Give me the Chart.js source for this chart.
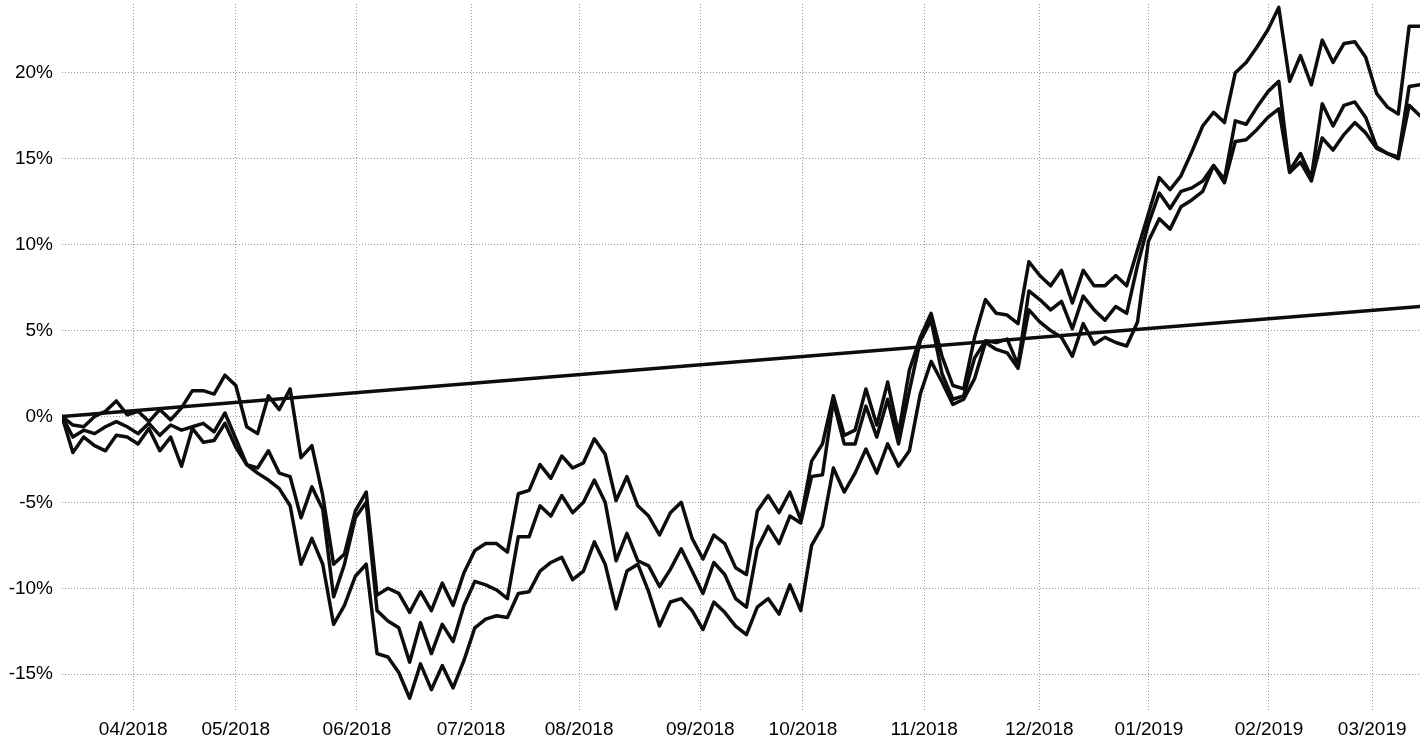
<!DOCTYPE html>
<html>
<head>
<meta charset="utf-8">
<title>Cumulative return</title>
<script src="https://cdn.jsdelivr.net/npm/chart.js@4.4.0/dist/chart.umd.min.js"></script>
<style>
  html, body { margin: 0; padding: 0; background: #fff; }
  #chart { display: block; }
</style>
</head>
<body>
<canvas id="chart" width="1426" height="741"></canvas>
<script>
// x = trading-day index (every 2nd session, mid-March 2018 -> mid-March 2019)
const dayIndex = [0,2,4,6,8,10,12,14,16,18,20,22,24,26,28,30,32,34,36,38,40,42,44,46,48,50,52,54,56,58,
  60,62,64,66,68,70,72,74,76,78,80,82,84,86,88,90,92,94,96,98,100,102,104,106,108,110,112,114,116,118,
  120,122,124,126,128,130,132,134,136,138,140,142,144,146,148,150,152,154,156,158,160,162,164,166,168,170,
  172,174,176,178,180,182,184,186,188,190,192,194,196,198,200,202,204,206,208,210,212,214,216,218,220,222,
  224,226,228,230,232,234,236,238,240,242,244,246,248,250];

// cumulative return in %
const seriesHigh = [0,-0.5,-0.6,0.0,0.3,0.9,0.1,0.3,-0.3,0.4,
  -0.2,0.5,1.5,1.5,1.3,2.4,1.8,-0.6,-1.0,1.2,
  0.4,1.6,-2.4,-1.7,-4.6,-8.6,-8.0,-5.5,-4.4,-10.4,
  -10.0,-10.3,-11.4,-10.2,-11.3,-9.7,-11.0,-9.1,-7.8,-7.4,
  -7.4,-7.9,-4.5,-4.3,-2.8,-3.6,-2.3,-3.0,-2.7,-1.3,
  -2.2,-4.9,-3.5,-5.2,-5.8,-6.9,-5.6,-5.0,-7.1,-8.3,
  -6.9,-7.4,-8.8,-9.2,-5.5,-4.6,-5.6,-4.4,-6.0,-2.6,
  -1.6,1.2,-1.1,-0.8,1.6,-0.5,2.0,-1.0,2.7,4.6,
  6.0,3.5,1.8,1.6,4.6,6.8,6.0,5.9,5.4,9.0,
  8.2,7.6,8.5,6.6,8.5,7.6,7.6,8.2,7.6,9.7,
  11.8,13.9,13.2,14.0,15.4,16.9,17.7,17.1,20.0,20.6,
  21.5,22.5,23.8,19.5,21.0,19.3,21.9,20.6,21.7,21.8,
  20.9,18.8,18.0,17.6,22.7,22.7];

const seriesMid = [0,-1.2,-0.8,-1.0,-0.6,-0.3,-0.6,-1.0,-0.4,-1.1,
  -0.5,-0.8,-0.6,-0.4,-0.9,0.2,-1.3,-2.8,-3.0,-2.0,
  -3.3,-3.5,-5.9,-4.1,-5.4,-10.5,-8.6,-5.9,-5.0,-11.3,
  -11.9,-12.3,-14.3,-12.0,-13.8,-12.1,-13.1,-11.0,-9.6,-9.8,
  -10.1,-10.6,-7.0,-7.0,-5.2,-5.8,-4.6,-5.6,-5.0,-3.7,
  -5.0,-8.4,-6.8,-8.4,-8.7,-9.9,-8.9,-7.7,-9.0,-10.3,
  -8.5,-9.2,-10.6,-11.1,-7.7,-6.4,-7.4,-5.8,-6.2,-3.5,
  -3.4,0.9,-1.6,-1.6,0.6,-1.2,1.0,-1.6,1.5,4.4,
  5.6,2.5,1.0,1.2,3.4,4.4,4.3,4.5,3.0,7.3,
  6.8,6.2,6.7,5.1,7.0,6.2,5.6,6.4,6.0,8.8,
  11.2,13.0,12.1,13.1,13.3,13.7,14.6,13.8,17.2,17.0,
  18.0,18.9,19.5,14.3,15.3,13.9,18.2,16.9,18.1,18.3,
  17.4,15.7,15.3,15.1,19.2,19.3];

const seriesLow = [0,-2.1,-1.2,-1.7,-2.0,-1.1,-1.2,-1.6,-0.7,-2.0,
  -1.2,-2.9,-0.7,-1.5,-1.4,-0.4,-1.8,-2.8,-3.3,-3.7,
  -4.2,-5.2,-8.6,-7.1,-8.6,-12.1,-11.0,-9.3,-8.6,-13.8,
  -14.0,-14.9,-16.4,-14.4,-15.9,-14.5,-15.8,-14.2,-12.3,-11.8,
  -11.6,-11.7,-10.3,-10.2,-9.0,-8.5,-8.2,-9.5,-9.0,-7.3,
  -8.6,-11.2,-9.0,-8.6,-10.2,-12.2,-10.8,-10.6,-11.3,-12.4,
  -10.8,-11.4,-12.2,-12.7,-11.1,-10.6,-11.5,-9.8,-11.3,-7.5,
  -6.4,-3.0,-4.4,-3.3,-1.9,-3.3,-1.6,-2.9,-2.0,1.3,
  3.2,2.0,0.7,1.0,2.2,4.3,3.9,3.7,2.8,6.2,
  5.5,5.0,4.6,3.5,5.4,4.2,4.6,4.3,4.1,5.5,
  10.2,11.5,10.9,12.2,12.6,13.1,14.6,13.6,16.0,16.1,
  16.7,17.4,17.9,14.2,14.8,13.7,16.2,15.5,16.4,17.1,
  16.5,15.6,15.3,15.0,18.1,17.5];

// straight reference line: first and last day only
const benchX = [0, 250];
const benchY = [0, 6.4];

// first session of each month on the day axis
const monthPos = [13.1, 32.0, 54.3, 75.3, 95.2, 117.5, 136.4, 158.7, 179.9, 200.1, 222.2, 241.2];
const monthLabels = ['04/2018','05/2018','06/2018','07/2018','08/2018','09/2018',
  '10/2018','11/2018','12/2018','01/2019','02/2019','03/2019'];
const yTicks = [-15, -10, -5, 0, 5, 10, 15, 20];

const toPoints = (xs, ys) => ys.map((y, i) => ({ x: xs[i], y: y }));

const lineStyle = {
  borderColor: '#0d0d0d',
  borderWidth: 3.5,
  pointRadius: 0,
  tension: 0,
  fill: false,
  borderJoinStyle: 'round',
  borderCapStyle: 'round'
};

const tickFont = { family: "'Liberation Sans', Arial, sans-serif", size: 19 };
const gridStyle = { color: '#9a9a9a', lineWidth: 1, drawTicks: false };
const noBorder = { display: false, dash: [1, 2] };

new Chart(document.getElementById('chart'), {
  type: 'line',
  data: {
    datasets: [
      Object.assign({ label: 'Benchmark', data: toPoints(benchX, benchY) }, lineStyle),
      Object.assign({ label: 'High', data: toPoints(dayIndex, seriesHigh) }, lineStyle),
      Object.assign({ label: 'Mid', data: toPoints(dayIndex, seriesMid) }, lineStyle),
      Object.assign({ label: 'Low', data: toPoints(dayIndex, seriesLow) }, lineStyle)
    ]
  },
  options: {
    responsive: false,
    animation: false,
    layout: { padding: { left: 0, right: 6, top: 4, bottom: 0 } },
    plugins: { legend: { display: false }, tooltip: { enabled: false } },
    scales: {
      x: {
        type: 'linear',
        min: 0,
        max: 250,
        afterBuildTicks: function (scale) {
          scale.ticks = monthPos.map(v => ({ value: v }));
        },
        afterFit: function (scale) {
          scale.height = 29;
          scale.paddingLeft = 0;
          scale.paddingRight = 0;
        },
        ticks: {
          autoSkip: false,
          maxRotation: 0,
          padding: 6,
          color: '#000',
          font: tickFont,
          callback: (v, i) => monthLabels[i]
        },
        grid: gridStyle,
        border: noBorder
      },
      y: {
        min: -17.2,
        max: 24,
        afterBuildTicks: function (scale) {
          scale.ticks = yTicks.map(v => ({ value: v }));
        },
        afterFit: function (scale) {
          scale.width = 62;
          scale.paddingTop = 0;
          scale.paddingBottom = 0;
        },
        ticks: {
          padding: 9,
          color: '#000',
          font: tickFont,
          callback: v => v + '%'
        },
        grid: gridStyle,
        border: noBorder
      }
    }
  }
});
</script>
</body>
</html>
